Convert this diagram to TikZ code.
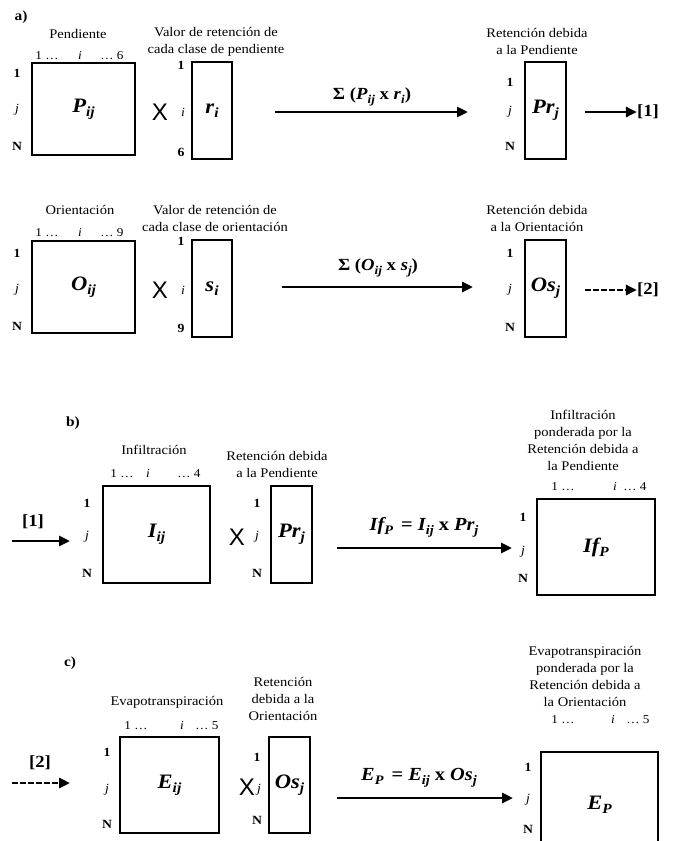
\documentclass[tikz,border=0pt]{standalone}
\usepackage{fontspec}
\setmainfont{Liberation Serif}[FakeStretch=1.1]
\newfontfamily\sansX{Liberation Sans}
\usetikzlibrary{arrows.meta}
\newcommand\sbx[2]{\raisebox{-0.45ex}{\fontsize{#1}{#1}\selectfont #2}}
\tikzset{
  mat/.style={draw, line width=1.3pt, inner sep=0pt, font=\fontsize{20.5}{22}\selectfont\bfseries\itshape},
  ttl/.style={font=\fontsize{13.2}{17}\selectfont, align=center, inner sep=0pt},
  idx/.style={font=\fontsize{12}{13}\selectfont, inner sep=0pt},
  idxi/.style={font=\fontsize{12}{13}\selectfont\itshape, inner sep=0pt},
  rlab/.style={font=\fontsize{12.5}{14}\selectfont\bfseries, inner sep=0pt},
  rit/.style={font=\fontsize{12.5}{14}\selectfont\itshape, inner sep=0pt},
  timesx/.style={font=\sansX\fontsize{24}{26}\selectfont, inner sep=0pt},
  arr/.style={line width=2.8pt, -{Triangle[length=11pt,width=10pt]}},
  darr/.style={arr, dash pattern=on 5.5pt off 2.5pt},
  formula/.style={font=\fontsize{18.5}{20}\selectfont\bfseries\itshape, inner sep=0pt},
  formulaS/.style={font=\fontsize{17}{18}\selectfont\bfseries, inner sep=0pt},
  sec/.style={font=\fontsize{14}{16}\selectfont\bfseries, inner sep=0pt},
  refl/.style={font=\fontsize{17}{18}\selectfont\bfseries, inner sep=0pt},
}
\begin{document}
\begin{tikzpicture}[x=1pt,y=-1pt]
\useasboundingbox (0,0) rectangle (675,841);

% ---------------- a) ----------------
\node[sec] (la) at (21,17) {a)};

% P matrix
\node[ttl] (tP) at (78,34) {Pendiente};
\node[idx] (p1) at (47,56) {1 …};
\node[idxi] (pi) at (80,56) {i};
\node[idx] (pn) at (112,56) {… 6};
\node[mat, minimum width=103pt, minimum height=92pt] (P) at (83.5,109) {P\sbx{14}{ij}};
\node[rlab] (P1) at (17,73) {1};
\node[rit] (Pj) at (17,110) {j};
\node[rlab] (PN) at (17,146) {N};
\node[timesx] (x1) at (160,112) {X};

% r vector
\node[ttl] (tr) at (216,42) {Valor de retención de\\cada clase de pendiente};
\node[mat, minimum width=40pt, minimum height=97pt] (r) at (212,110.5) {r\sbx{14}{i}};
\node[rlab] (r1) at (181,65) {1};
\node[rit] (ri) at (183,112) {i};
\node[rlab] (r6) at (181,152) {6};

% arrow a1
\coordinate (a1s) at (275,112);
\coordinate (a1e) at (468,112);
\draw[arr] (a1s) -- (a1e);
\node[formulaS] (fa1) at (372,97) {Σ (\textit{P}\sbx{12}{\itshape ij} x \textit{r}\sbx{12}{\itshape i})};

% Pr vector
\node[ttl] (tPr) at (537,41.5) {Retención debida\\a la Pendiente};
\node[mat, minimum width=41pt, minimum height=97pt] (Pr) at (545.5,110.5) {Pr\sbx{14}{j}};
\node[rlab] (Pr1) at (510,82) {1};
\node[rit] (Prj) at (510,112) {j};
\node[rlab] (PrN) at (510,146) {N};

\coordinate (o1s) at (585,112);
\node[refl] (ref1) at (648,112) {[1]};
\draw[arr] (o1s) -- (ref1.west);

% O matrix
\node[ttl] (tO) at (80,210) {Orientación};
\node[idx] (o1) at (47,233) {1 …};
\node[idxi] (oi) at (80,233) {i};
\node[idx] (on) at (112,233) {… 9};
\node[mat, minimum width=103pt, minimum height=92pt] (O) at (83.5,287) {O\sbx{14}{ij}};
\node[rlab] (O1) at (17,253) {1};
\node[rit] (Oj) at (17,290) {j};
\node[rlab] (ON) at (17,326) {N};
\node[timesx] (x2) at (160,290) {X};

% s vector
\node[ttl] (ts) at (215,218) {Valor de retención de\\cada clase de orientación};
\node[mat, minimum width=40pt, minimum height=97pt] (s) at (212,288.5) {s\sbx{14}{i}};
\node[rlab] (s1) at (181,241) {1};
\node[rit] (si) at (183,290) {i};
\node[rlab] (s9) at (181,328) {9};

\coordinate (a2s) at (282,287);
\coordinate (a2e) at (473,287);
\draw[arr] (a2s) -- (a2e);
\node[formulaS] (fa2) at (378,268) {Σ (\textit{O}\sbx{12}{\itshape ij} x \textit{s}\sbx{12}{\itshape j})};

% Os vector
\node[ttl] (tOs) at (537,218.5) {Retención debida\\a la Orientación};
\node[mat, minimum width=41pt, minimum height=97pt] (Os) at (545.5,288.5) {Os\sbx{14}{j}};
\node[rlab] (Os1) at (510,253) {1};
\node[rit] (Osj) at (510,290) {j};
\node[rlab] (OsN) at (510,327) {N};

\coordinate (o2s) at (585,290);
\node[refl] (ref2) at (648,290) {[2]};
\draw[darr] (o2s) -- (ref2.west);

% ---------------- b) ----------------
\node[sec] (lb) at (73,423) {b)};
\node[refl] (refb) at (33,522) {[1]};
\coordinate (bis) at (12,541);
\coordinate (bie) at (70,541);
\draw[arr] (bis) -- (bie);

\node[ttl] (tI) at (154,450) {Infiltración};
\node[idx] (i1) at (122,474) {1 …};
\node[idxi] (ii) at (148,474) {i};
\node[idx] (in) at (189,474) {… 4};
\node[mat, minimum width=107pt, minimum height=97pt] (I) at (156.5,534.5) {I\sbx{14}{ij}};
\node[rlab] (I1) at (87,503) {1};
\node[rit] (Ij) at (87,537) {j};
\node[rlab] (IN) at (87,573) {N};
\node[timesx] (x3) at (237,537) {X};

\node[ttl] (tPr2) at (277,464.5) {Retención debida\\a la Pendiente};
\node[mat, minimum width=41pt, minimum height=97pt] (Pr2) at (291.5,534.5) {Pr\sbx{14}{j}};
\node[rlab] (Pr21) at (257,503) {1};
\node[rit] (Pr2j) at (257,537) {j};
\node[rlab] (Pr2N) at (257,573) {N};

\coordinate (bms) at (337,548);
\coordinate (bme) at (512,548);
\draw[arr] (bms) -- (bme);
\node[formula] (fb) at (424,527) {If\sbx{13}{P}\, \textup{=} I\sbx{13}{ij} \textup{x} Pr\sbx{13}{j}};

\node[ttl] (tIf) at (583,440) {Infiltración\\ponderada por la\\Retención debida a\\la Pendiente};
\node[idx] (f1) at (563,487) {1 …};
\node[idxi] (fi) at (615,487) {i};
\node[idx] (fn) at (635,487) {… 4};
\node[mat, minimum width=118pt, minimum height=96pt] (IfP) at (596,547) {If\sbx{14}{P}};
\node[rlab] (If1) at (523,517) {1};
\node[rit] (Ifj) at (523,552) {j};
\node[rlab] (IfN) at (523,578) {N};

% ---------------- c) ----------------
\node[sec] (lc) at (70,663) {c)};
\node[refl] (refc) at (40,763) {[2]};
\coordinate (cis) at (12,783);
\coordinate (cie) at (70,783);
\draw[darr] (cis) -- (cie);

\node[ttl] (tE) at (167,702) {Evapotranspiración};
\node[idx] (e1) at (136,726) {1 …};
\node[idxi] (ei) at (182,726) {i};
\node[idx] (en) at (207,726) {… 5};
\node[mat, minimum width=99pt, minimum height=96pt] (E) at (169.5,785) {E\sbx{14}{ij}};
\node[rlab] (E1) at (107,752) {1};
\node[rit] (Ej) at (107,790) {j};
\node[rlab] (EN) at (107,824) {N};
\node[timesx] (x4) at (247,787) {X};

\node[ttl] (tOs2) at (283,698.5) {Retención\\debida a la\\Orientación};
\node[mat, minimum width=41pt, minimum height=96pt] (Os2) at (289.5,785) {Os\sbx{14}{j}};
\node[rlab] (Os21) at (257,757) {1};
\node[rit] (Os2j) at (259,790) {j};
\node[rlab] (Os2N) at (257,820) {N};

\coordinate (cms) at (337,798);
\coordinate (cme) at (513,798);
\draw[arr] (cms) -- (cme);
\node[formula] (fc) at (419,778) {E\sbx{13}{P}\, \textup{=} E\sbx{13}{ij} \textup{x} Os\sbx{13}{j}};

\node[ttl] (tEP) at (585,676.5) {Evapotranspiración\\ponderada por la\\Retención debida a\\la Orientación};
\node[idx] (g1) at (563,720) {1 …};
\node[idxi] (gi) at (613,720) {i};
\node[idx] (gn) at (638,720) {… 5};
\node[mat, minimum width=117pt, minimum height=106pt] (EP) at (599.5,805) {E\sbx{14}{P}};
\node[rlab] (EP1) at (528,767) {1};
\node[rit] (EPj) at (528,800) {j};
\node[rlab] (EPN) at (528,829) {N};
\end{tikzpicture}
\end{document}
